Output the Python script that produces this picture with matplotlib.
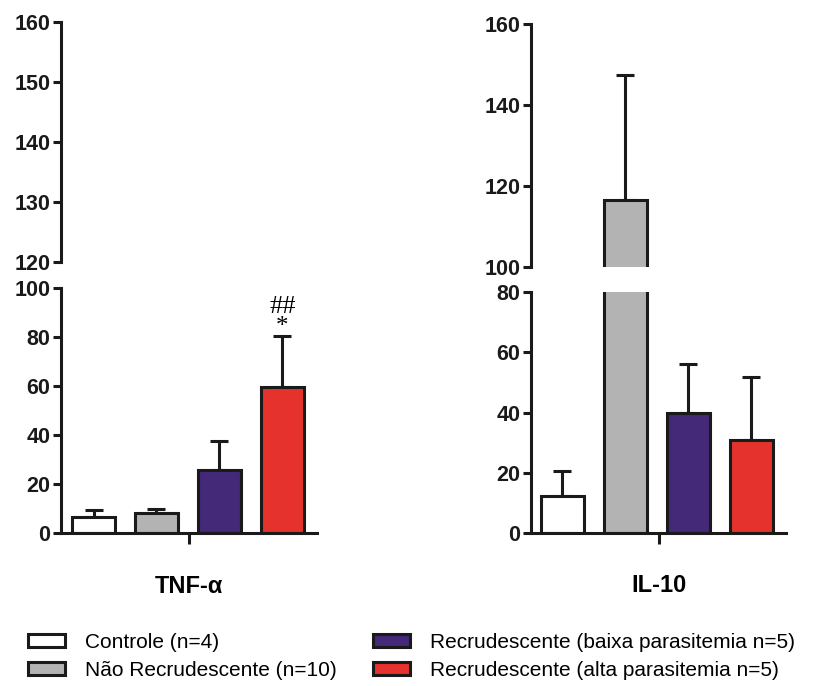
import matplotlib
matplotlib.use('Agg')
import matplotlib.pyplot as plt
from matplotlib.patches import Patch


W, H = 821, 686

groups = ['Controle (n=4)', 'Não Recrudescente (n=10)',
          'Recrudescente (baixa parasitemia n=5)',
          'Recrudescente (alta parasitemia n=5)']
colors = ['white', '#b3b3b3', '#432977', '#e5322c']

tnf_mean = [6.5, 8.3, 25.8, 59.7]
tnf_sem = [2.9, 1.5, 11.8, 20.7]
il10_mean = [12.4, 116.5, 39.9, 31.0]
il10_sem = [8.2, 31.0, 16.2, 20.8]

INK = '#1a1a1a'
LW = 2.2


def plotting_config():
    plt.rcParams.update({
        'font.family': ['Liberation Sans', 'DejaVu Sans'],
        'font.size': 13,
        'axes.linewidth': LW,
        'axes.edgecolor': INK,
        'xtick.major.width': LW,
        'ytick.major.width': LW,
        'xtick.major.size': 6,
        'ytick.major.size': 6,
        'xtick.direction': 'out',
        'ytick.direction': 'out',
        'ytick.major.pad': 1.5,
        'xtick.color': INK,
        'ytick.color': INK,
    })


def px_axes(fig, x0, y_top, x1, y_bottom):
    # place an axes box by pixel coordinates measured from the top-left corner
    return fig.add_axes([x0 / W, 1 - y_bottom / H, (x1 - x0) / W,
                         (y_bottom - y_top) / H])


def draw_bars(ax, means, sems):
    x = range(len(means))
    ax.bar(x, means, width=0.68, color=colors, edgecolor=INK,
           linewidth=LW, zorder=2)
    ax.errorbar(x, means, yerr=[[0] * len(sems), sems], fmt='none',
                ecolor=INK, elinewidth=LW, capsize=6.5, capthick=LW,
                zorder=1)


def style_axis(ax, lim, ticks, lower, xlim):
    ax.set_ylim(*lim)
    ax.set_xlim(*xlim)
    ax.set_yticks(ticks)
    ax.set_yticklabels([str(t) for t in ticks], fontsize=15.5,
                       fontweight='bold')
    ax.spines['top'].set_visible(False)
    ax.spines['right'].set_visible(False)
    if lower:
        ax.set_xticks([sum(xlim) / 2])
        ax.set_xticklabels([''])
        ax.tick_params(axis='x', length=8)
    else:
        ax.spines['bottom'].set_visible(False)
        ax.set_xticks([])


def panel(fig, x0, x1, boxes, lims, ticks, means, sems, xlim, label):
    (up_top, up_bot), (lo_top, lo_bot) = boxes
    ax_up = px_axes(fig, x0, up_top, x1, up_bot)
    ax_lo = px_axes(fig, x0, lo_top, x1, lo_bot)
    for ax, lim, tk, lower in ((ax_up, lims[0], ticks[0], False),
                               (ax_lo, lims[1], ticks[1], True)):
        draw_bars(ax, means, sems)
        style_axis(ax, lim, tk, lower, xlim)
    ax_lo.text(0.5, -0.218, label, transform=ax_lo.transAxes,
               ha='center', va='center', fontsize=17, fontweight='bold')
    return ax_up, ax_lo


def main():
    plotting_config()
    fig = plt.figure(figsize=(W / 100, H / 100), dpi=100)

    _, tnf_lo = panel(fig, 61, 317, ((22, 262), (288, 533)),
                      ((120, 160), (0, 100)),
                      ([120, 130, 140, 150, 160], [0, 20, 40, 60, 80, 100]),
                      tnf_mean, tnf_sem, (-0.516, 3.548), 'TNF-α')
    top = tnf_mean[3] + tnf_sem[3]
    serif = ['Liberation Serif', 'DejaVu Serif']
    tnf_lo.text(3, top + 3.6, '*', ha='center', va='center', fontsize=18,
                family=serif)
    tnf_lo.text(3, top + 11.8, '##', ha='center', va='center', fontsize=19,
                family=serif)

    panel(fig, 531, 786, ((24, 267), (292, 533)),
          ((100, 160), (0, 80)),
          ([100, 120, 140, 160], [0, 20, 40, 60, 80]),
          il10_mean, il10_sem, (-0.5, 3.548), 'IL-10')

    handles = [Patch(facecolor=c, edgecolor=INK, linewidth=LW)
               for c in colors]
    fig.legend(handles, groups, loc='upper left',
               bbox_to_anchor=(28 / W, 1 - 633 / H), ncol=2, frameon=False,
               fontsize=15, handlelength=1.78, handleheight=0.58,
               handletextpad=0.95, columnspacing=1.75, labelspacing=0.42,
               borderpad=0, borderaxespad=0)

    fig.savefig('out.png', dpi=100)


if __name__ == '__main__':
    main()
